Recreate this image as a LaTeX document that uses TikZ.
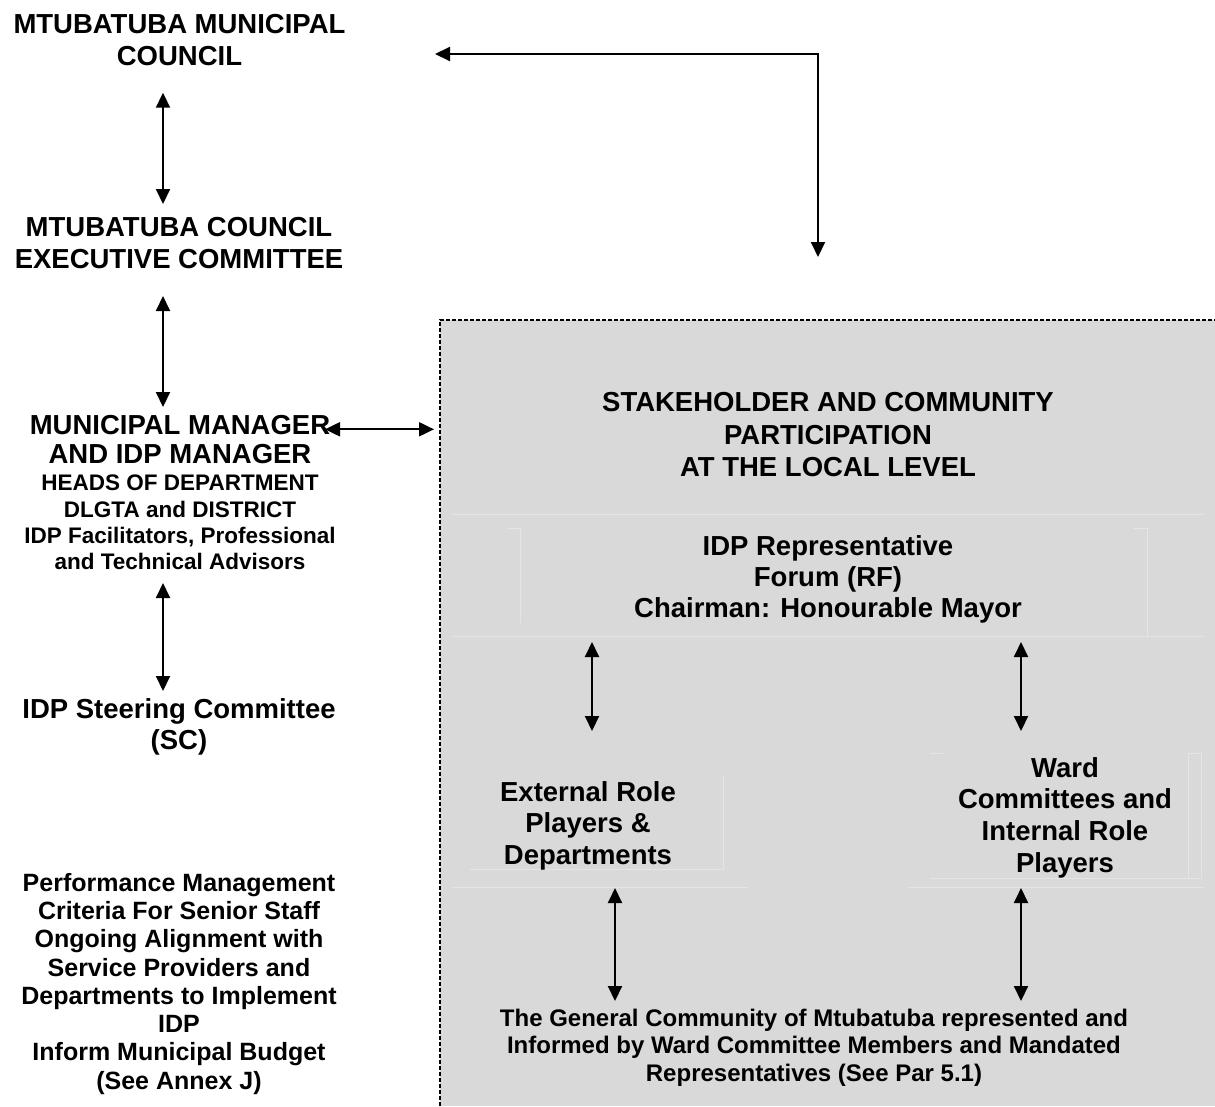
\documentclass[tikz,border=0pt]{standalone}
\usepackage{fontspec}
\setmainfont{Liberation Sans}
\usetikzlibrary{arrows.meta}
\definecolor{panelgrey}{RGB}{217,217,217}
\definecolor{faintline}{RGB}{229,229,229}
\begin{document}
\begin{tikzpicture}[x=1pt,y=-1pt,
  lbl/.style={align=center, inner sep=0pt, outer sep=0pt, anchor=north},
  bigA/.style={lbl, font=\fontsize{27.5}{32}\selectfont\bfseries},
  bigB/.style={lbl, font=\fontsize{27.5}{28.5}\selectfont\bfseries},
  bigC/.style={lbl, font=\fontsize{27.5}{31.3}\selectfont\bfseries},
  smallA/.style={lbl, font=\fontsize{22.5}{26.4}\selectfont\bfseries},
  smallB/.style={lbl, font=\fontsize{25}{28.3}\selectfont\bfseries},
  smallC/.style={lbl, font=\fontsize{24}{27.5}\selectfont\bfseries},
  dbl/.style={line width=2pt, {Triangle[length=15pt,width=14pt]}-{Triangle[length=15pt,width=14pt]}},
  faint/.style={draw=faintline, line width=0.9pt},
  panelborder/.style={line width=1.2pt, dash pattern=on 4pt off 2pt}
]
\useasboundingbox (0,0) rectangle (1215,1106);

% grey participation panel
\fill[panelgrey] (440,320) rectangle (1215,1106);
\draw[panelborder] (440,1106) -- (440,320) -- (1215,320);

% faint inner frames
\draw[faint] (453,514) -- (1203,514);
\draw[faint] (507,528) -- (520,528) -- (520,623);
\draw[faint] (1134,528) -- (1147,528) -- (1147,636);
\draw[faint] (453,636) -- (1203,636);
\draw[faint] (723,775) -- (723,869);
\draw[faint] (470,869) -- (723,869);
\draw[faint] (453,887) -- (748,887);
\draw[faint] (930,753) -- (943,753);
\draw[faint] (1188,753) -- (1201,753);
\draw[faint] (1188,753) -- (1188,878);
\draw[faint] (1201,753) -- (1201,878);
\draw[faint] (930,878) -- (1201,878);
\draw[faint] (908,887) -- (1203,887);

% left column
\node[bigA] (council) at (179.5,14.3) {MTUBATUBA MUNICIPAL\\COUNCIL};
\node[bigA] (exec) at (179,217.3) {MTUBATUBA COUNCIL\\EXECUTIVE COMMITTEE};
\node[bigB] (mm) at (180,415.3) {MUNICIPAL MANAGER\\AND IDP MANAGER};
\node[smallA] (mmsub) at (180,474.9) {HEADS OF DEPARTMENT\\DLGTA and DISTRICT\\IDP Facilitators, Professional\\and Technical Advisors};
\node[bigC] (steer) at (179,698.3) {IDP Steering Committee\\(SC)};
\node[smallB] (perf) at (179,873) {Performance Management\\Criteria For Senior Staff\\Ongoing Alignment with\\Service Providers and\\Departments to Implement\\IDP\\Inform Municipal Budget\\(See Annex J)};

% right panel texts
\node[lbl, font=\fontsize{27.5}{32.5}\selectfont\bfseries] (sh) at (828,392.3) {STAKEHOLDER AND COMMUNITY\\PARTICIPATION\\AT THE LOCAL LEVEL};
\node[bigC] (rf) at (828,535.3) {IDP Representative\\Forum (RF)\\Chairman: Honourable Mayor};
\node[lbl, font=\fontsize{27.5}{31.5}\selectfont\bfseries] (ext) at (588,781.3) {External Role\\Players \&\\Departments};
\node[lbl, font=\fontsize{27.5}{31.7}\selectfont\bfseries] (ward) at (1065,757.3) {Ward\\Committees and\\Internal Role\\Players};
\node[smallC] (gen) at (814,1008.8) {The General Community of Mtubatuba represented and\\Informed by Ward Committee Members and Mandated\\Representatives (See Par 5.1)};

% connector end points
\coordinate (a1t) at (163,92.7);  \coordinate (a1b) at (163,204);
\coordinate (a2t) at (163,296);   \coordinate (a2b) at (163,407);
\coordinate (a3t) at (163,583);   \coordinate (a3b) at (163,691);
\coordinate (hL) at (325,429.3);  \coordinate (hR) at (434,429.3);
\coordinate (cL) at (435,54);     \coordinate (cC) at (818,54);   \coordinate (cD) at (818,257);
\coordinate (r1t) at (592,642);   \coordinate (r1b) at (592,731);
\coordinate (r2t) at (1021,642);  \coordinate (r2b) at (1021,731);
\coordinate (r3t) at (615,888);   \coordinate (r3b) at (615,1001);
\coordinate (r4t) at (1021,888);  \coordinate (r4b) at (1021,1001);

% connectors
\draw[dbl] (a1t) -- (a1b);
\draw[dbl] (a2t) -- (a2b);
\draw[dbl] (a3t) -- (a3b);
\draw[dbl] (hL) -- (hR);
\draw[dbl] (cL) -- (cC) -- (cD);
\draw[dbl] (r1t) -- (r1b);
\draw[dbl] (r2t) -- (r2b);
\draw[dbl] (r3t) -- (r3b);
\draw[dbl] (r4t) -- (r4b);
\end{tikzpicture}
\end{document}
